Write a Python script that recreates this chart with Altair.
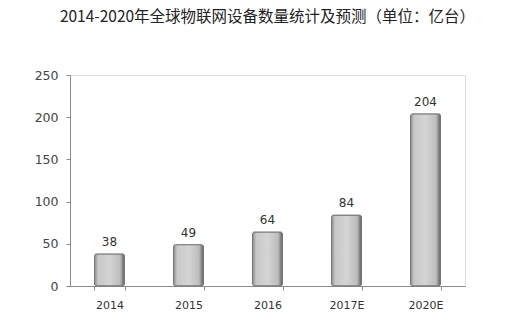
import altair as alt
import pandas as pd

categories = ["2014", "2015", "2016", "2017E", "2020E"]
values = [38, 49, 64, 84, 204]
y_ticks = [0, 50, 100, 150, 200, 250]
title_text = "2014-2020年全球物联网设备数量统计及预测（单位：亿台）"

df = pd.DataFrame({"year": categories, "value": values})

grad = alt.Gradient(
    gradient="linear", x1=0, x2=1, y1=0, y2=0,
    stops=[
        alt.GradientStop(color="#8a8a8a", offset=0),
        alt.GradientStop(color="#c8c8c8", offset=0.12),
        alt.GradientStop(color="#d4d4d4", offset=0.5),
        alt.GradientStop(color="#bdbdbd", offset=0.85),
        alt.GradientStop(color="#5e5e5e", offset=1),
    ],
)

x = alt.X("year:N", sort=categories,
          scale=alt.Scale(paddingInner=0.62, paddingOuter=0.31),
          axis=alt.Axis(title=None, labelAngle=0, tickBand="extent",
                        domainColor="#8c8c8c", tickColor="#8c8c8c", tickSize=4,
                        labelColor="#333333", labelFontSize=11, labelFont="DejaVu Sans",
                        labelPadding=9))
y = alt.Y("value:Q",
          scale=alt.Scale(domain=[0, 250], nice=False),
          axis=alt.Axis(title=None, values=y_ticks, grid=False,
                        domainColor="#8c8c8c", tickColor="#8c8c8c", tickSize=4,
                        labelColor="#444444", labelFontSize=12.5, labelFont="DejaVu Sans",
                        labelPadding=8))

bars = alt.Chart(df).mark_bar(fill=grad, stroke="#777777", strokeWidth=1,
                              cornerRadius=2).encode(x=x, y=y)
labels = alt.Chart(df).mark_text(dy=-12, fontSize=12, color="#333333",
                                 font="DejaVu Sans").encode(
    x=alt.X("year:N", sort=categories), y="value:Q", text="value:Q")

chart = (bars + labels).properties(
    width=395, height=211,
    title=alt.TitleParams(title_text, fontSize=15.5, fontWeight="normal",
                          font="Noto Sans CJK SC", color="#222222", offset=44,
                          anchor="middle"),
    autosize=alt.AutoSizeParams(type="none"),
    padding={"left": 70, "top": 75, "right": 65, "bottom": 33},
).configure_view(stroke=None).configure(background="white")

chart.save("out.html", embed_options={"renderer": "svg", "actions": False})
